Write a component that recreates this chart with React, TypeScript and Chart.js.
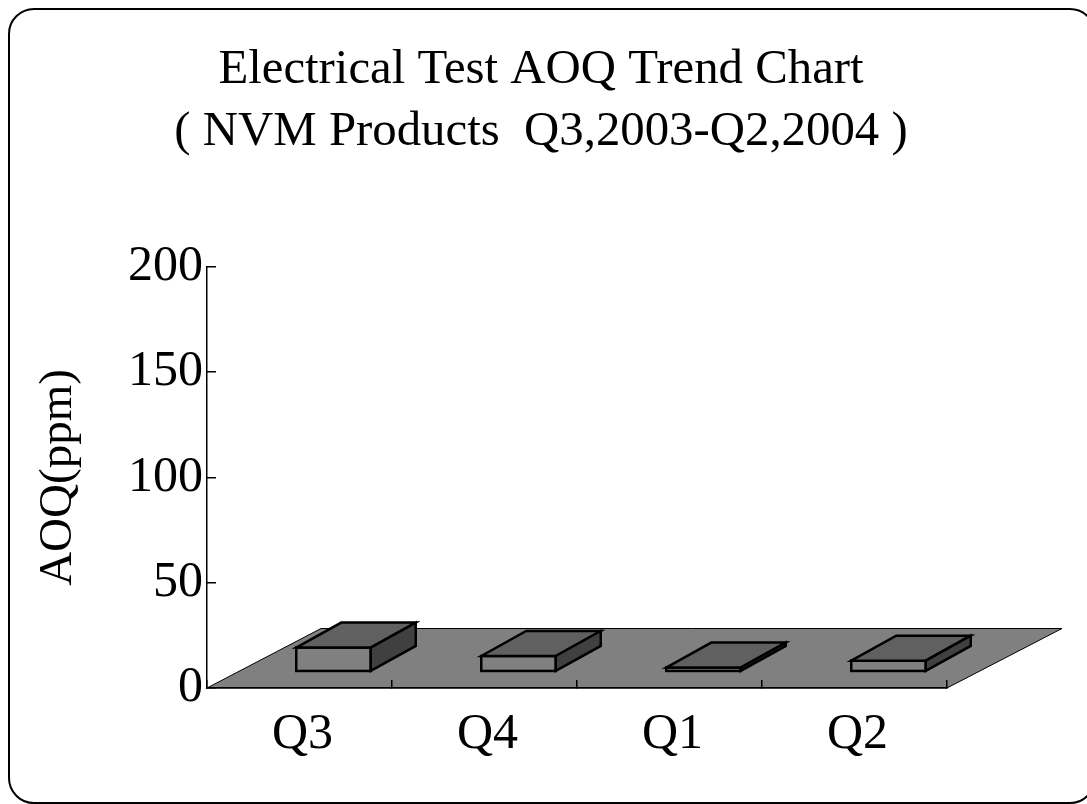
import React, { useEffect, useRef } from "react";
import { Chart, registerables } from "chart.js";

Chart.register(...registerables);

const categories = ["Q3", "Q4", "Q1", "Q2"];
const aoqValues = [11.1, 7.1, 1.6, 4.9];
const yTicks = [0, 50, 100, 150, 200];
const titleLines = ["Electrical Test AOQ Trend Chart", "( NVM Products  Q3,2003-Q2,2004 )"];
const yAxisTitle = "AOQ(ppm)";
const floorLift = 8.1;

const FONT = "'Liberation Serif'";
const DX = 45;
const DY = -25;
const BAR_SHIFT = 34;

const scene3d = {
  id: "scene3d",
  afterDatasetsUpdate(chart: any) {
    chart.getDatasetMeta(0).data.forEach((el: any) => {
      el.x += BAR_SHIFT;
    });
  },
  beforeDraw(chart: any) {
    const { ctx, chartArea: a, scales } = chart;
    const y0 = scales.y.getPixelForValue(0);
    const fx = 115;
    const fy = -59.5;
    ctx.save();
    ctx.fillStyle = "#808080";
    ctx.strokeStyle = "#000";
    ctx.lineWidth = 1;
    ctx.beginPath();
    ctx.moveTo(a.left, y0);
    ctx.lineTo(a.right, y0);
    ctx.lineTo(a.right + fx, y0 + fy);
    ctx.lineTo(a.left + fx - 1, y0 + fy);
    ctx.closePath();
    ctx.fill();
    ctx.stroke();
    ctx.restore();
  },
  afterDatasetsDraw(chart: any) {
    const { ctx } = chart;
    ctx.save();
    ctx.strokeStyle = "#000";
    ctx.lineWidth = 2.5;
    ctx.lineJoin = "miter";
    chart.getDatasetMeta(0).data.forEach((el: any) => {
      const l = el.x - el.width / 2;
      const r = el.x + el.width / 2;
      const t = el.y;
      const b = el.base;
      ctx.strokeRect(l, t, r - l, b - t);
      ctx.fillStyle = "#606060";
      ctx.beginPath();
      ctx.moveTo(l, t);
      ctx.lineTo(l + DX, t + DY);
      ctx.lineTo(r + DX, t + DY);
      ctx.lineTo(r, t);
      ctx.closePath();
      ctx.fill();
      ctx.stroke();
      ctx.fillStyle = "#404040";
      ctx.beginPath();
      ctx.moveTo(r, t);
      ctx.lineTo(r + DX, t + DY);
      ctx.lineTo(r + DX, b + DY);
      ctx.lineTo(r, b);
      ctx.closePath();
      ctx.fill();
      ctx.stroke();
    });
    ctx.restore();
  },
};

const frame = {
  id: "frame",
  afterDraw(chart: any) {
    const { ctx } = chart;
    ctx.save();
    ctx.strokeStyle = "#000";
    ctx.lineWidth = 2;
    ctx.beginPath();
    ctx.roundRect(9, 9, 1086, 794, 25);
    ctx.stroke();
    ctx.restore();
  },
};

export default function App() {
  const ref = useRef<HTMLCanvasElement>(null);
  useEffect(() => {
    document.body.style.margin = "0";
    document.body.style.background = "#fff";
    const chart = new Chart(ref.current!, {
      type: "bar",
      data: {
        labels: categories,
        datasets: [
          {
            data: aoqValues.map((v) => [floorLift, floorLift + v]),
            backgroundColor: "#808080",
            borderWidth: 0,
            barThickness: 74.5,
          },
        ],
      },
      options: {
        responsive: false,
        animation: false,
        layout: { padding: { top: 0, right: 5, bottom: 0, left: 0 } },
        plugins: {
          legend: { display: false },
          tooltip: { enabled: false },
          title: {
            display: true,
            text: titleLines,
            color: "#000",
            font: { family: FONT, size: 48.8, weight: "normal", lineHeight: 1.27 },
            padding: { top: 39, bottom: 104 },
          },
        },
        scales: {
          x: {
            afterFit(s: any) {
              s.height = 116;
            },
            grid: { drawOnChartArea: false, drawTicks: true, tickLength: -8, color: "#000", lineWidth: 1.5 },
            border: { color: "#000", width: 1.5 },
            ticks: { color: "#000", font: { family: FONT, size: 50 }, padding: 25, maxRotation: 0, labelOffset: 3 },
          },
          y: {
            min: 0,
            max: 200,
            afterFit(s: any) {
              s.width = 207;
            },
            afterBuildTicks(s: any) {
              s.ticks = yTicks.map((value) => ({ value }));
            },
            title: { display: true, text: yAxisTitle, color: "#000", font: { family: FONT, size: 47 }, padding: 30 },
            grid: { drawOnChartArea: false, drawTicks: true, tickLength: -9, color: "#000", lineWidth: 1.5 },
            border: { color: "#000", width: 1.5 },
            ticks: { color: "#000", font: { family: FONT, size: 50 }, padding: 13 },
          },
          spacer: {
            position: "right",
            display: true,
            afterFit(s: any) {
              s.width = 135;
            },
            grid: { display: false },
            border: { display: false },
            ticks: { display: false },
          },
        },
      },
      plugins: [scene3d, frame],
    });
    return () => chart.destroy();
  }, []);
  return <canvas ref={ref} width={1087} height={804} style={{ display: "block" }} />;
}
